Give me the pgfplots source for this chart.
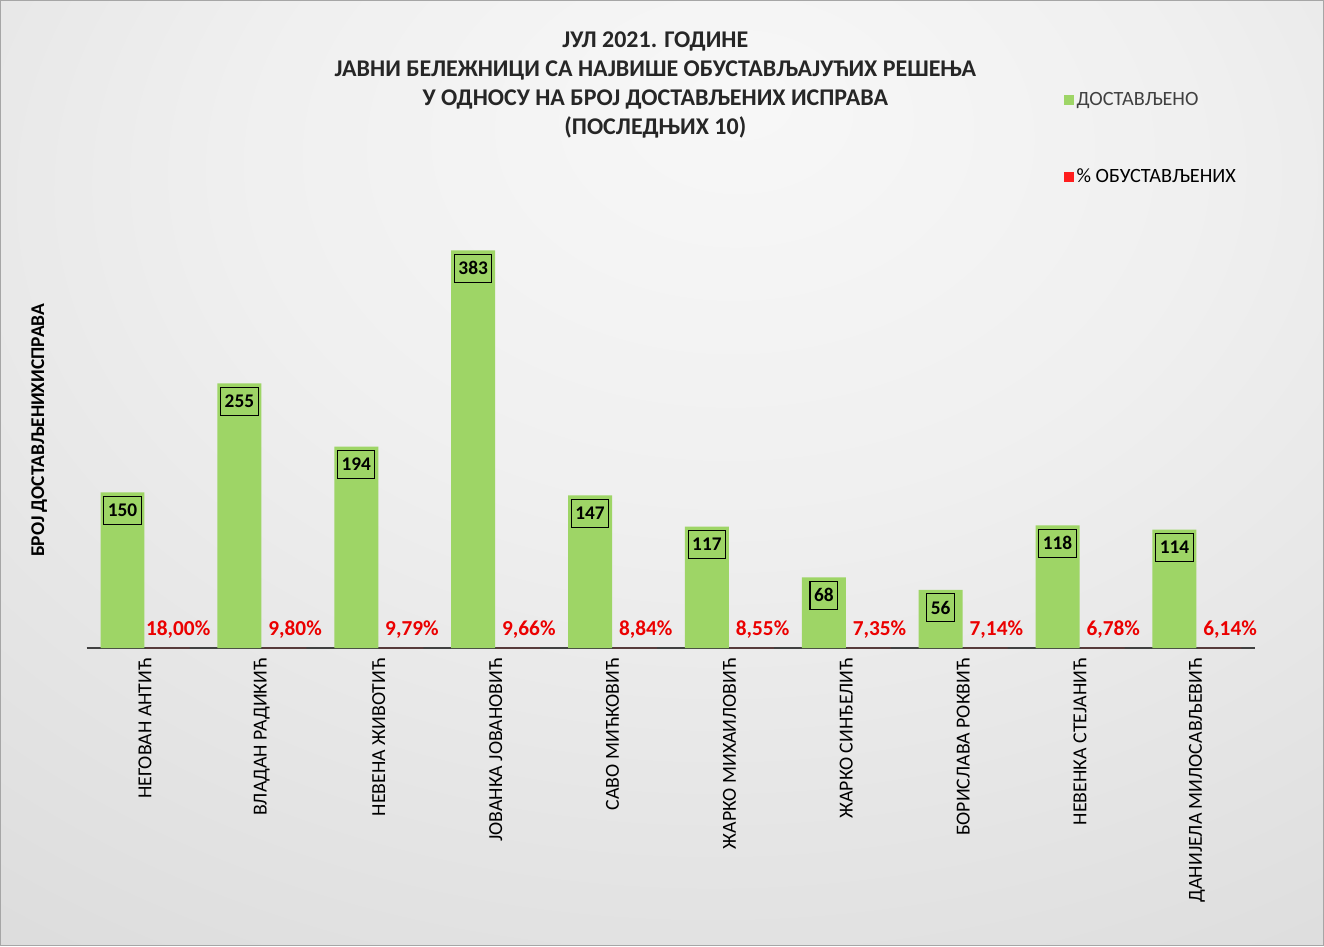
\documentclass[border=0pt]{standalone}
\usepackage{pgfplots}
\pgfplotsset{compat=1.18}
\usepackage{fontspec}
\setmainfont{Carlito}
\definecolor{barGreen}{RGB}{158,213,102}
\definecolor{lblRed}{RGB}{235,0,0}
\definecolor{legRed}{RGB}{255,30,30}
\definecolor{axGray}{RGB}{64,64,64}
\pgfdeclareradialshading{bgshade}{\pgfpoint{3bp}{20bp}}{%
  color(0bp)=(black!3); color(18bp)=(black!6); color(57bp)=(black!17); color(88bp)=(black!24); color(100bp)=(black!25)}
\begin{document}
\begin{tikzpicture}
% background, 1px = 0.75pt
\shade[shading=bgshade, draw=black!35, line width=1pt] (0,0) rectangle (993pt,709.5pt);

\node[align=center, font=\fontsize{18}{21.75}\selectfont\bfseries, text=black!85]
  at (491.5pt,645.9pt) {ЈУЛ 2021. ГОДИНЕ\\ЈАВНИ БЕЛЕЖНИЦИ СА НАЈВИШЕ ОБУСТАВЉАЈУЋИХ РЕШЕЊА\\У ОДНОСУ НА БРОЈ ДОСТАВЉЕНИХ ИСПРАВА\\(ПОСЛЕДЊИХ 10)};

\node[rotate=90, font=\fontsize{14.6}{16}\selectfont\bfseries] at (29pt,387pt) {БРОЈ ДОСТАВЉЕНИХИСПРАВА};

\begin{axis}[
    at={(64.5pt,223.5pt)}, anchor=south west,
    scale only axis,
    width=877.5pt, height=311.8pt,
    ybar=0.8pt, bar width=33pt,
    xmin=-0.5, xmax=9.5,
    ymin=0, ymax=400,
    axis x line*=bottom,
    axis y line=none,
    x axis line style={axGray, line width=1.5pt},
    xtick=data,
    xtick style={draw=none},
    xticklabels={НЕГОВАН АНТИЋ, ВЛАДАН РАДИКИЋ, НЕВЕНА ЖИВОТИЋ, ЈОВАНКА ЈОВАНОВИЋ, САВО МИЋКОВИЋ, ЖАРКО МИХАИЛОВИЋ, ЖАРКО СИНЂЕЛИЋ, БОРИСЛАВА РОКВИЋ, НЕВЕНКА СТЕЈАНИЋ, ДАНИЈЕЛА МИЛОСАВЉЕВИЋ},
    xticklabel style={rotate=90, anchor=east, font=\fontsize{14.9}{16}\selectfont, text=black},
    point meta=explicit symbolic,
    clip=false,
    legend style={at={(0.836,1.345)}, anchor=north west, draw=none, fill=none,
      font=\fontsize{15.2}{17}\selectfont, row sep=42pt, inner sep=0pt,
      nodes={inner sep=2pt}},
    legend cell align=left,
    legend image code/.code={\fill (0pt,-3.75pt) rectangle (7.5pt,3.75pt);},
]
\addplot[fill=barGreen, draw=none,
    nodes near coords, every node near coord/.append style={anchor=north, yshift=-2.5pt,
      draw=black, line width=0.8pt, font=\fontsize{14.5}{16}\selectfont\bfseries, text=black,
      inner xsep=3pt, minimum height=21pt}]
coordinates {
  (0,150) [150]
  (1,255) [255]
  (2,194) [194]
  (3,383) [383]
  (4,147) [147]
  (5,117) [117]
  (6,68) [68]
  (7,56) [56]
  (8,118) [118]
  (9,114) [114]
};
\addlegendentry{\textcolor{axGray}{ДОСТАВЉЕНО}}
\addplot[fill=legRed, draw=none,
    nodes near coords, every node near coord/.append style={anchor=center, yshift=14pt, xshift=8pt,
      font=\fontsize{16}{17}\selectfont\bfseries, text=lblRed}]
coordinates {
  (0,0.18) [18,00\%]
  (1,0.098) [9,80\%]
  (2,0.0979) [9,79\%]
  (3,0.0966) [9,66\%]
  (4,0.0884) [8,84\%]
  (5,0.0855) [8,55\%]
  (6,0.0735) [7,35\%]
  (7,0.0714) [7,14\%]
  (8,0.0678) [6,78\%]
  (9,0.0614) [6,14\%]
};
\addlegendentry{\textcolor{black}{\% ОБУСТАВЉЕНИХ}}
\end{axis}
\end{tikzpicture}
\end{document}
